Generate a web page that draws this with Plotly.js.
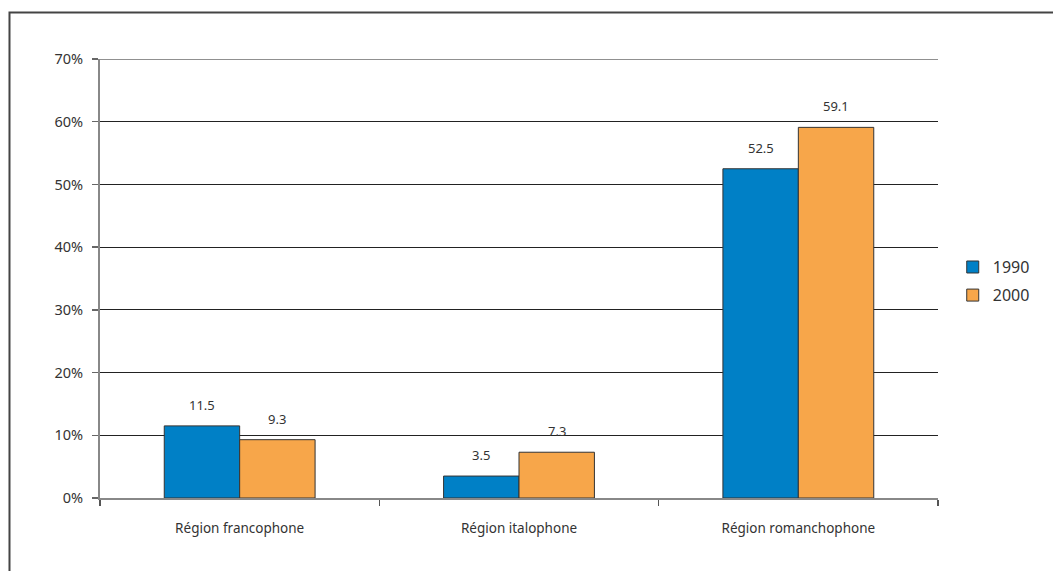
<!DOCTYPE html>
<html>
<head>
<meta charset="utf-8">
<script src="https://cdn.plot.ly/plotly-3.0.1.min.js"></script>
<style>
html,body{margin:0;padding:0;background:#fff;}
#chart{width:1053px;height:571px;}
</style>
</head>
<body>
<div id="chart"></div>
<script>
const categories = ["Région francophone", "Région italophone", "Région romanchophone"];
const seriesNames = ["1990", "2000"];
const values1990 = [11.5, 3.5, 52.5];
const values2000 = [9.3, 7.3, 59.1];
const yTickVals = [0, 10, 20, 30, 40, 50, 60, 70];
const yTickText = ["0%", "10%", "20%", "30%", "40%", "50%", "60%", "70%"];

const colors = ["#0080C6", "#F7A64A"];
const font = "Noto Sans, Open Sans, sans-serif";

const traces = [
  {type: "bar", name: seriesNames[0], x: categories, y: values1990, legend: "legend",
   marker: {color: colors[0], line: {color: "#333", width: 1}}, hoverinfo: "none"},
  {type: "bar", name: seriesNames[1], x: categories, y: values2000, legend: "legend2",
   marker: {color: colors[1], line: {color: "#333", width: 1}}, hoverinfo: "none"}
];

const shift = 37.7;
const annotations = [];
[values1990, values2000].forEach((vals, si) => {
  vals.forEach((v, i) => {
    annotations.push({
      x: categories[i], y: v, xref: "x", yref: "y",
      text: v.toFixed(1), showarrow: false,
      xshift: si === 0 ? -shift : shift, yshift: 21,
      yanchor: "middle",
      font: {family: font, size: 13, color: "#333"}
    });
  });
});

const legendBase = {xanchor: "left", yanchor: "middle",
  font: {family: font, size: 16, color: "#333"}, itemwidth: 30, bgcolor: "rgba(0,0,0,0)"};

const layout = {
  width: 1053, height: 571,
  margin: {l: 100, r: 115, t: 59, b: 73},
  paper_bgcolor: "#fff", plot_bgcolor: "#fff",
  font: {family: font, color: "#333"},
  barmode: "group", bargap: 0.46, bargroupgap: 0,
  showlegend: true,
  legend: Object.assign({x: 1.0176, y: 0.526}, legendBase),
  legend2: Object.assign({x: 1.0176, y: 0.462}, legendBase),
  xaxis: {type: "category", showline: true, linecolor: "#888", linewidth: 1.5,
          ticks: "outside", tickson: "boundaries", ticklen: 6, tickcolor: "#555", tickwidth: 1.5,
          showgrid: false, zeroline: false,
          tickfont: {family: font, size: 13.5, color: "#333"}, ticklabelstandoff: 17},
  yaxis: {range: [0, 70], tickvals: yTickVals, ticktext: yTickText,
          showline: true, linecolor: "#888", linewidth: 2,
          ticks: "outside", ticklen: 6, tickcolor: "#666", tickwidth: 1.5,
          showgrid: true, gridcolor: "#222", gridwidth: 1, zeroline: false,
          tickfont: {family: font, size: 14.5, color: "#333"}, ticklabelstandoff: 6},
  annotations: annotations,
  shapes: [
    {type: "line", xref: "paper", yref: "y", x0: 0, x1: 1,
     y0: yTickVals[yTickVals.length - 1], y1: yTickVals[yTickVals.length - 1],
     line: {color: "#222", width: 1}},
    {type: "rect", xref: "paper", yref: "paper", x0: -0.108, x1: 1.16, y0: -0.2, y1: 1.1059,
     line: {color: "#444", width: 2}, fillcolor: "rgba(0,0,0,0)", layer: "below"}
  ]
};

Plotly.newPlot("chart", traces, layout, {displayModeBar: false, staticPlot: true});
</script>
</body>
</html>
